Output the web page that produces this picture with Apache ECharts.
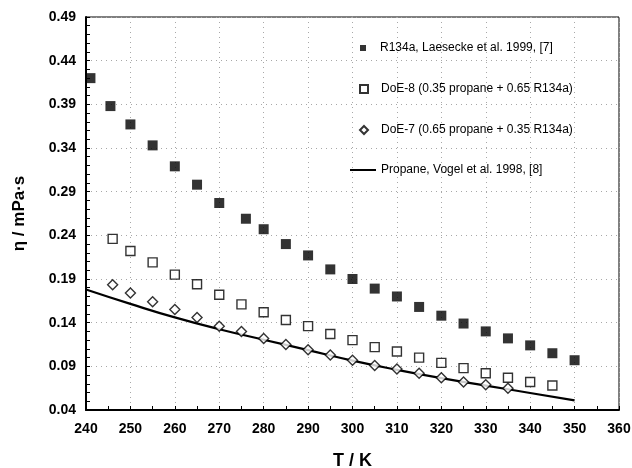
<!DOCTYPE html>
<html>
<head>
<meta charset="utf-8">
<script src="https://cdn.jsdelivr.net/npm/echarts@6/dist/echarts.min.js"></script>
<style>
  html, body { margin: 0; padding: 0; background: #fff; }
  #chart { width: 632px; height: 468px; }
</style>
</head>
<body>
<div id="chart"></div>
<script>
// Viscosity of R134a, propane and two propane/R134a mixtures vs temperature

const legendNames = [
  'R134a, Laesecke et al. 1999, [7]',
  'DoE-8 (0.35 propane + 0.65 R134a)',
  'DoE-7 (0.65 propane + 0.35 R134a)',
  'Propane, Vogel et al. 1998, [8]'
];

// R134a (filled squares)
const tR134a = [241, 245.5, 250, 255, 260, 265, 270, 276, 280, 285, 290, 295, 300, 305, 310, 315, 320, 325, 330, 335, 340, 345, 350];
const etaR134a = [0.420, 0.388, 0.367, 0.343, 0.319, 0.298, 0.277, 0.259, 0.247, 0.230, 0.217, 0.201, 0.190, 0.179, 0.170, 0.158, 0.148, 0.139, 0.130, 0.122, 0.114, 0.105, 0.097];

// DoE-8 (open squares)
const tDoE8 = [246, 250, 255, 260, 265, 270, 275, 280, 285, 290, 295, 300, 305, 310, 315, 320, 325, 330, 335, 340, 345];
const etaDoE8 = [0.236, 0.222, 0.209, 0.195, 0.184, 0.172, 0.161, 0.152, 0.143, 0.136, 0.127, 0.120, 0.112, 0.107, 0.100, 0.094, 0.088, 0.082, 0.077, 0.072, 0.068];

// DoE-7 (open diamonds)
const tDoE7 = [246, 250, 255, 260, 265, 270, 275, 280, 285, 290, 295, 300, 305, 310, 315, 320, 325, 330, 335];
const etaDoE7 = [0.1835, 0.174, 0.164, 0.155, 0.146, 0.136, 0.130, 0.122, 0.115, 0.109, 0.103, 0.097, 0.091, 0.087, 0.082, 0.077, 0.072, 0.069, 0.065];

// Propane correlation (solid line)
const tPropane = [240, 250, 260, 270, 280, 290, 300, 310, 320, 330, 340, 350];
const etaPropane = [0.178, 0.1615, 0.146, 0.1325, 0.1205, 0.1085, 0.0965, 0.086, 0.0765, 0.068, 0.0595, 0.051];

// Axis ticks
const xTicks = [240, 250, 260, 270, 280, 290, 300, 310, 320, 330, 340, 350, 360];
const yTicks = [0.04, 0.09, 0.14, 0.19, 0.24, 0.29, 0.34, 0.39, 0.44, 0.49];

const zip = (a, b) => a.map((v, i) => [v, b[i]]);

const FONT = '"Liberation Sans", Arial, sans-serif';
const gridLine = { show: true, lineStyle: { color: '#a8a8a8', width: 1, type: [1, 4] } };

// One legend block per entry so each marker keeps its own size
function legendBox(name, icon, left, top, w, h, textPad) {
  return {
    data: [{ name: name, icon: icon }],
    left: left, top: top,
    itemWidth: w, itemHeight: h,
    padding: 0,
    selectedMode: false,
    textStyle: { fontFamily: FONT, fontSize: 12, color: '#000', padding: [0, 0, 0, textPad] }
  };
}

const option = {
  animation: false,
  backgroundColor: '#fff',
  grid: {
    left: 86, right: 13, top: 17, bottom: 58,
    outerBoundsMode: 'none',
    show: true, borderColor: '#000', borderWidth: 1, backgroundColor: 'transparent'
  },
  legend: [
    legendBox(legendNames[0], 'rect', 360, 42, 6, 6, 9),
    legendBox(legendNames[1], 'rect', 359, 83, 8, 8, 8),
    legendBox(legendNames[2], 'diamond', 359, 124, 8, 8, 8),
    legendBox(legendNames[3], 'rect', 350, 164, 26, 2, 0)
  ],
  xAxis: {
    type: 'value',
    min: xTicks[0], max: xTicks[xTicks.length - 1], interval: 10,
    name: 'T / K',
    nameLocation: 'middle', nameGap: 42,
    nameTextStyle: { fontFamily: FONT, fontSize: 18, fontWeight: 'bold', color: '#000' },
    axisLine: { show: true, onZero: false, lineStyle: { color: '#000', width: 2 } },
    axisTick: { show: true, inside: true, length: 4, lineStyle: { color: '#000', width: 1 } },
    minorTick: { show: true, splitNumber: 2, length: 4, lineStyle: { color: '#000', width: 1 } },
    axisLabel: {
      margin: 12, fontFamily: FONT, fontSize: 14, fontWeight: 'bold', color: '#000'
    },
    splitLine: gridLine
  },
  yAxis: {
    type: 'value',
    min: yTicks[0], max: yTicks[yTicks.length - 1], interval: 0.05,
    name: 'η / mPa·s',
    nameLocation: 'middle', nameGap: 58, nameRotate: 90,
    nameTextStyle: { fontFamily: FONT, fontSize: 17, fontWeight: 'bold', color: '#000' },
    axisLine: { show: true, onZero: false, lineStyle: { color: '#000', width: 2 } },
    axisTick: { show: true, inside: true, length: 4, lineStyle: { color: '#000', width: 1 } },
    minorTick: { show: true, splitNumber: 5, length: 4, lineStyle: { color: '#000', width: 1 } },
    axisLabel: {
      margin: 10, fontFamily: FONT, fontSize: 14, fontWeight: 'bold', color: '#000',
      formatter: v => v.toFixed(2)
    },
    splitLine: gridLine
  },
  series: [
    {
      name: legendNames[0], type: 'scatter',
      data: zip(tR134a, etaR134a),
      symbol: 'rect', symbolSize: 10,
      itemStyle: { color: '#000', borderColor: '#000', borderWidth: 0 },
      z: 4
    },
    {
      name: legendNames[1], type: 'scatter',
      data: zip(tDoE8, etaDoE8),
      symbol: 'rect', symbolSize: 9,
      itemStyle: { color: '#fff', borderColor: '#000', borderWidth: 1.4 },
      z: 4
    },
    {
      name: legendNames[2], type: 'scatter',
      data: zip(tDoE7, etaDoE7),
      symbol: 'diamond', symbolSize: 10,
      itemStyle: { color: '#fff', borderColor: '#000', borderWidth: 1.4 },
      z: 5
    },
    {
      name: legendNames[3], type: 'line',
      data: zip(tPropane, etaPropane),
      symbol: 'none', smooth: true,
      lineStyle: { color: '#000', width: 2.2 },
      itemStyle: { color: '#000' },
      z: 3
    }
  ]
};

echarts.init(document.getElementById('chart'), null, { renderer: 'canvas' }).setOption(option);
</script>
</body>
</html>
